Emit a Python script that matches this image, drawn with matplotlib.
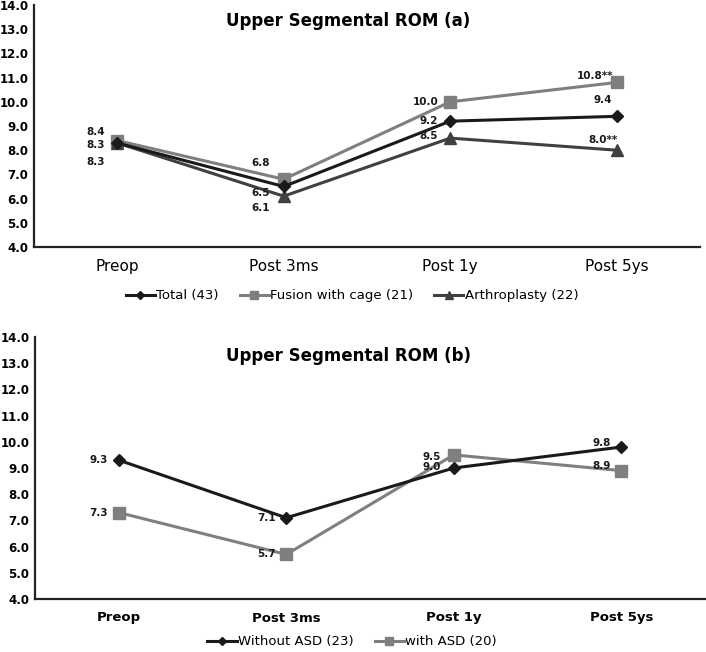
import matplotlib
matplotlib.use("Agg")
import matplotlib.pyplot as plt

categories = ["Preop", "Post 3ms", "Post 1y", "Post 5ys"]

# Panel (a)
total = [8.3, 6.5, 9.2, 9.4]
fusion = [8.4, 6.8, 10.0, 10.8]
arthro = [8.3, 6.1, 8.5, 8.0]
fusion_labels = ["8.4", "6.8", "10.0", "10.8**"]
total_labels = ["8.3", "6.5", "9.2", "9.4"]
arthro_labels = ["8.3", "6.1", "8.5", "8.0**"]

# Panel (b)
without_asd = [9.3, 7.1, 9.0, 9.8]
with_asd = [7.3, 5.7, 9.5, 8.9]

yticks = [4.0, 5.0, 6.0, 7.0, 8.0, 9.0, 10.0, 11.0, 12.0, 13.0, 14.0]

plt.rcParams['font.family'] = ['DejaVu Sans']

fig = plt.figure(figsize=(7.06, 6.52), dpi=100)
W, H = 706, 652

def px(v):
    return v * 72 / 100.0

def setup(ax, catsize, catweight):
    ax.set_xlim(-0.5, 3.5)
    ax.set_ylim(4, 14)
    ax.set_yticks(yticks)
    ax.set_yticklabels([f"{t:.1f}" for t in yticks], fontsize=8.5, fontweight='bold')
    ax.set_xticks(range(4))
    ax.set_xticklabels(categories, fontsize=catsize, fontweight=catweight)
    ax.tick_params(axis='both', length=0)
    ax.tick_params(axis='y', pad=4)
    ax.tick_params(axis='x', pad=9)
    for s in ['top', 'right']:
        ax.spines[s].set_visible(False)
    ax.spines['left'].set_linewidth(1.6)
    ax.spines['bottom'].set_linewidth(1.6)
    ax.spines['left'].set_color('#222222')
    ax.spines['bottom'].set_color('#222222')

# top axes
ax1 = fig.add_axes([34 / W, 1 - 247 / H, 666 / W, 242 / H])
setup(ax1, 11, 'normal')
x = list(range(4))
ax1.plot(x, fusion, color='#7f7f7f', lw=2.2, marker='s', ms=8, label='Fusion with cage (21)', zorder=3)
ax1.plot(x, total, color='#1a1a1a', lw=2.2, marker='D', ms=6, label='Total (43)', zorder=4)
ax1.plot(x, arthro, color='#404040', lw=2.2, marker='^', ms=8, label='Arthroplasty (22)', zorder=3)

# label offsets in pixels (dx, dy) from point (positive dy = up)
off_f = [(-22, 9), (-23, 16), (-25, 0), (-22, 6)]
off_t = [(-22, -2), (-23, -7), (-22, 0), (-14, 16)]
off_a = [(-22, -19), (-23, -12), (-22, 2), (-14, 10)]
for vals, labs, offs in [(fusion, fusion_labels, off_f), (total, total_labels, off_t), (arthro, arthro_labels, off_a)]:
    for i, (v, l, o) in enumerate(zip(vals, labs, offs)):
        ax1.annotate(l, (i, v), xytext=(px(o[0]), px(o[1])), textcoords='offset points',
                     ha='center', va='center', fontsize=7.5, fontweight='bold', color='#1a1a1a')

fig.text(348 / W, 1 - 21 / H, "Upper Segmental ROM (a)", ha='center', va='center',
         fontsize=12, fontweight='bold')

h, l = ax1.get_legend_handles_labels()
order = [1, 0, 2]
fig.legend([h[i] for i in order], [l[i] for i in order], loc='center',
           bbox_to_anchor=(352 / W, 1 - 296 / H), ncol=3, frameon=False,
           fontsize=9.5, handlelength=2.2, columnspacing=1.6, handletextpad=0.1,
           markerscale=0.75)

# bottom axes
ax2 = fig.add_axes([35 / W, 1 - 599 / H, 670 / W, 262 / H])
setup(ax2, 9.5, 'bold')
ax2.plot(x, without_asd, color='#1a1a1a', lw=2.2, marker='D', ms=6, label='Without ASD (23)', zorder=4)
ax2.plot(x, with_asd, color='#7f7f7f', lw=2.2, marker='s', ms=8, label='with ASD (20)', zorder=3)

off_w = [(-20, 0), (-20, 0), (-22, 1), (-20, 4)]
off_s = [(-20, 0), (-20, 0), (-22, -2), (-20, 5)]
for vals, offs in [(without_asd, off_w), (with_asd, off_s)]:
    for i, (v, o) in enumerate(zip(vals, offs)):
        ax2.annotate(f"{v:.1f}", (i, v), xytext=(px(o[0]), px(o[1])), textcoords='offset points',
                     ha='center', va='center', fontsize=7.5, fontweight='bold', color='#1a1a1a')

fig.text(348 / W, 1 - 356 / H, "Upper Segmental ROM (b)", ha='center', va='center',
         fontsize=12, fontweight='bold')

fig.legend(*ax2.get_legend_handles_labels(), loc='center',
           bbox_to_anchor=(352 / W, 1 - 642 / H), ncol=2, frameon=False,
           fontsize=9.5, handlelength=2.2, columnspacing=1.6, handletextpad=0.1,
           markerscale=0.75)

fig.savefig("out.png", dpi=100, facecolor='white')
